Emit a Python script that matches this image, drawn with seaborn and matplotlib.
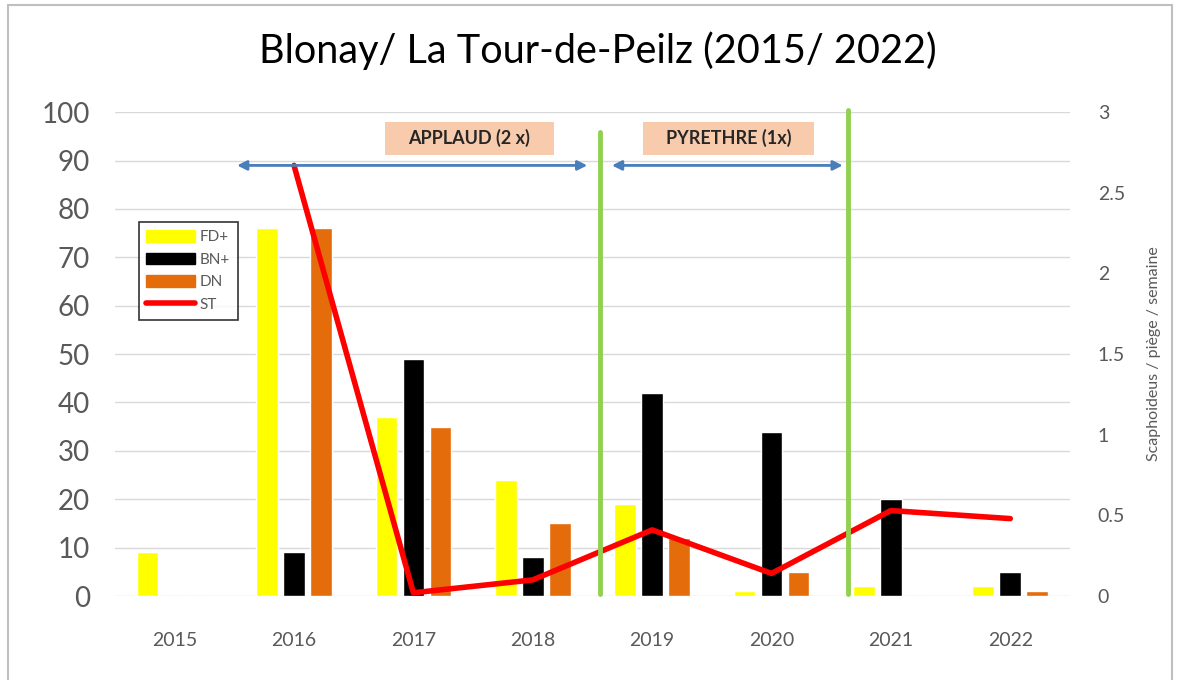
import matplotlib
matplotlib.use("Agg")
import matplotlib.pyplot as plt
from matplotlib.patches import Patch, Rectangle
from matplotlib.lines import Line2D
import numpy as np
import pandas as pd
import seaborn as sns

# data
years = ["2015", "2016", "2017", "2018", "2019", "2020", "2021", "2022"]
fd_plus = [9, 76, 37, 24, 19, 1, 2, 2]
bn_plus = [0, 9, 49, 8, 42, 34, 20, 5]
dn = [0, 76, 35, 15, 12, 5, 0, 1]
st_years = ["2016", "2017", "2018", "2019", "2020", "2021", "2022"]
st_values = [2.67, 0.02, 0.10, 0.41, 0.14, 0.53, 0.48]
series_names = ["FD+", "BN+", "DN"]
colors = {"FD+": "#FFFF00", "BN+": "#000000", "DN": "#E46C0A"}

df = pd.DataFrame({
    "year": years * 3,
    "series": [s for s in series_names for _ in years],
    "value": fd_plus + bn_plus + dn,
})

sns.set_style("white")
plt.rcParams["font.family"] = ["Lato", "DejaVu Sans"]

fig = plt.figure(figsize=(11.79, 6.8), dpi=100)
ax = fig.add_axes([0.0975, 0.1235, 0.81, 0.7115])

sns.barplot(data=df, x="year", y="value", hue="series", palette=colors,
            order=years, hue_order=series_names, width=0.68, gap=0.2,
            saturation=1, legend=False, ax=ax)

ax.set_xlim(-0.5, len(years) - 0.5)
ax.set_ylim(0, 100)
ax.set_yticks(range(0, 101, 10))
ax.yaxis.grid(True, color="#D9D9D9", lw=1)
ax.set_axisbelow(True)
for s in ax.spines.values():
    s.set_visible(False)
ax.set_xlabel("")
ax.set_ylabel("")
ax.tick_params(axis="y", labelsize=20, labelcolor="#595959", length=0, pad=18)
ax.tick_params(axis="x", labelsize=14, labelcolor="#595959", length=0, pad=26)

# ST line on secondary axis (drawn above the bars)
ax2 = ax.twinx()
st_pos = [years.index(y) for y in st_years]
sns.lineplot(x=st_pos, y=st_values, ax=ax2, color="#FF0000", lw=4, zorder=3)
ax2.set_xlim(-0.5, len(years) - 0.5)
ax2.set_ylim(0, 3)
ax2.set_yticks([0, 0.5, 1, 1.5, 2, 2.5, 3])
ax2.set_yticklabels(["0", "0.5", "1", "1.5", "2", "2.5", "3"])
for s in ax2.spines.values():
    s.set_visible(False)
ax2.tick_params(axis="y", labelsize=14, labelcolor="#595959", length=0, pad=20)
ax2.set_ylabel("Scaphoideus / piège / semaine", fontsize=11.5, color="#595959", labelpad=16)

# treatment markers (in left-axis units, drawn on top axes)
to_ax2 = 3 / 100
green_x = [3.56, 5.64]
green_top = [96, 100.5]
for gx, gt in zip(green_x, green_top):
    ax2.plot([gx, gx], [0.5 * to_ax2, gt * to_ax2], color="#92D050", lw=3.5,
             clip_on=False, zorder=4)

arrow_kw = dict(arrowstyle="<|-|>", color="#4A7EBB", lw=2, mutation_scale=14)
ax2.annotate("", xy=(3.48, 89 * to_ax2), xytext=(0.50, 89 * to_ax2), arrowprops=arrow_kw)
ax2.annotate("", xy=(5.62, 89 * to_ax2), xytext=(3.64, 89 * to_ax2), arrowprops=arrow_kw)

for x0, x1, label in [(1.76, 3.18, "APPLAUD (2 x)"), (3.92, 5.36, "PYRETHRE (1x)")]:
    ax2.add_patch(Rectangle((x0, 91.2 * to_ax2), x1 - x0, 6.8 * to_ax2,
                            color="#F8CBAD", lw=0, zorder=2))
    ax2.text((x0 + x1) / 2, 94.6 * to_ax2, label, ha="center", va="center",
             fontsize=13, fontweight="bold", color="#262626", zorder=5)

handles = [Patch(color=colors[s]) for s in series_names]
handles.append(Line2D([0], [0], color="#FF0000", lw=4))
leg = ax2.legend(handles, series_names + ["ST"], loc="upper left",
                 bbox_to_anchor=(0.017, 0.788), fontsize=11, frameon=True,
                 fancybox=False, edgecolor="#000000", handlelength=3.2,
                 handleheight=0.8, labelspacing=0.55, borderpad=0.5,
                 handletextpad=0.3, labelcolor="#595959")
leg.get_frame().set_linewidth(1.2)
leg.set_zorder(10)

fig.text(0.507, 0.925, "Blonay/ La Tour-de-Peilz (2015/ 2022)", ha="center",
         va="center", fontsize=28.5, color="#000000")

fig.patches.append(Rectangle((8 / 1179, -0.02), 1164 / 1179, 1.013,
                             transform=fig.transFigure, fill=False,
                             edgecolor="#BFBFBF", lw=1.5))

fig.savefig("out.png", dpi=100)
